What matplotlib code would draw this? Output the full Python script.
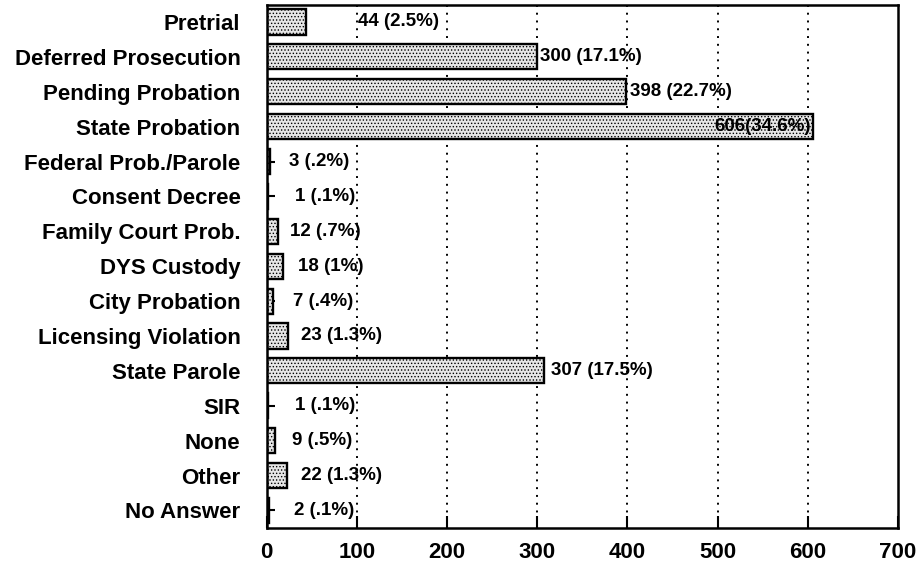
import matplotlib.pyplot as plt

plt.rcParams['font.family'] = ['Liberation Sans', 'DejaVu Sans']
plt.rcParams['hatch.color'] = '#7a7a7a'
plt.rcParams['hatch.linewidth'] = 0.6

categories = ["Pretrial", "Deferred Prosecution", "Pending Probation", "State Probation",
              "Federal Prob./Parole", "Consent Decree", "Family Court Prob.", "DYS Custody",
              "City Probation", "Licensing Violation", "State Parole", "SIR", "None",
              "Other", "No Answer"]
counts = [44, 300, 398, 606, 3, 1, 12, 18, 7, 23, 307, 1, 9, 22, 2]
percents = ["2.5%", "17.1%", "22.7%", "34.6%", ".2%", ".1%", ".7%", "1%", ".4%",
            "1.3%", "17.5%", ".1%", ".5%", "1.3%", ".1%"]

# label offset from bar end, in points
label_offsets = [37, 2, 3, -2, 14, 20, 9, 11, 14, 10, 5, 20, 12, 10, 18]

fig = plt.figure(figsize=(9.2, 5.64), dpi=100)
ax = fig.add_axes([0.290, 0.064, 0.686, 0.928])

ypos = list(range(len(categories)))
ax.barh(ypos, counts, height=0.72, color='#e6e6e6', edgecolor='black',
        linewidth=1.7, hatch='.....', zorder=2)

for y, c, p, off in zip(ypos, counts, percents, label_offsets):
    if off < 0:
        ax.annotate("%d(%s)" % (c, p), (c, y), xytext=(off, 0), textcoords='offset points',
                    ha='right', va='center', fontsize=13.5, fontweight='bold', zorder=3)
    else:
        ax.annotate("%d (%s)" % (c, p), (c, y), xytext=(off, 0), textcoords='offset points',
                    ha='left', va='center', fontsize=13.5, fontweight='bold', zorder=3)

ax.set_xlim(0, 700)
ax.set_ylim(len(categories) - 0.5, -0.5)
ax.set_yticks(ypos)
ax.set_yticklabels(categories, fontsize=16, fontweight='bold')
ax.set_xticks(range(0, 800, 100))
ax.set_xticklabels([str(v) for v in range(0, 800, 100)], fontsize=16, fontweight='bold')

ax.tick_params(axis='y', direction='in', length=6, width=1.5, pad=19)
ax.tick_params(axis='x', direction='in', length=9, width=1.5, pad=10)

for v in range(100, 700, 100):
    ax.axvline(v, color='black', linestyle=(0, (1, 3)), linewidth=1.4, zorder=1)

for s in ax.spines.values():
    s.set_linewidth(1.8)

fig.savefig('out.png', dpi=100)
